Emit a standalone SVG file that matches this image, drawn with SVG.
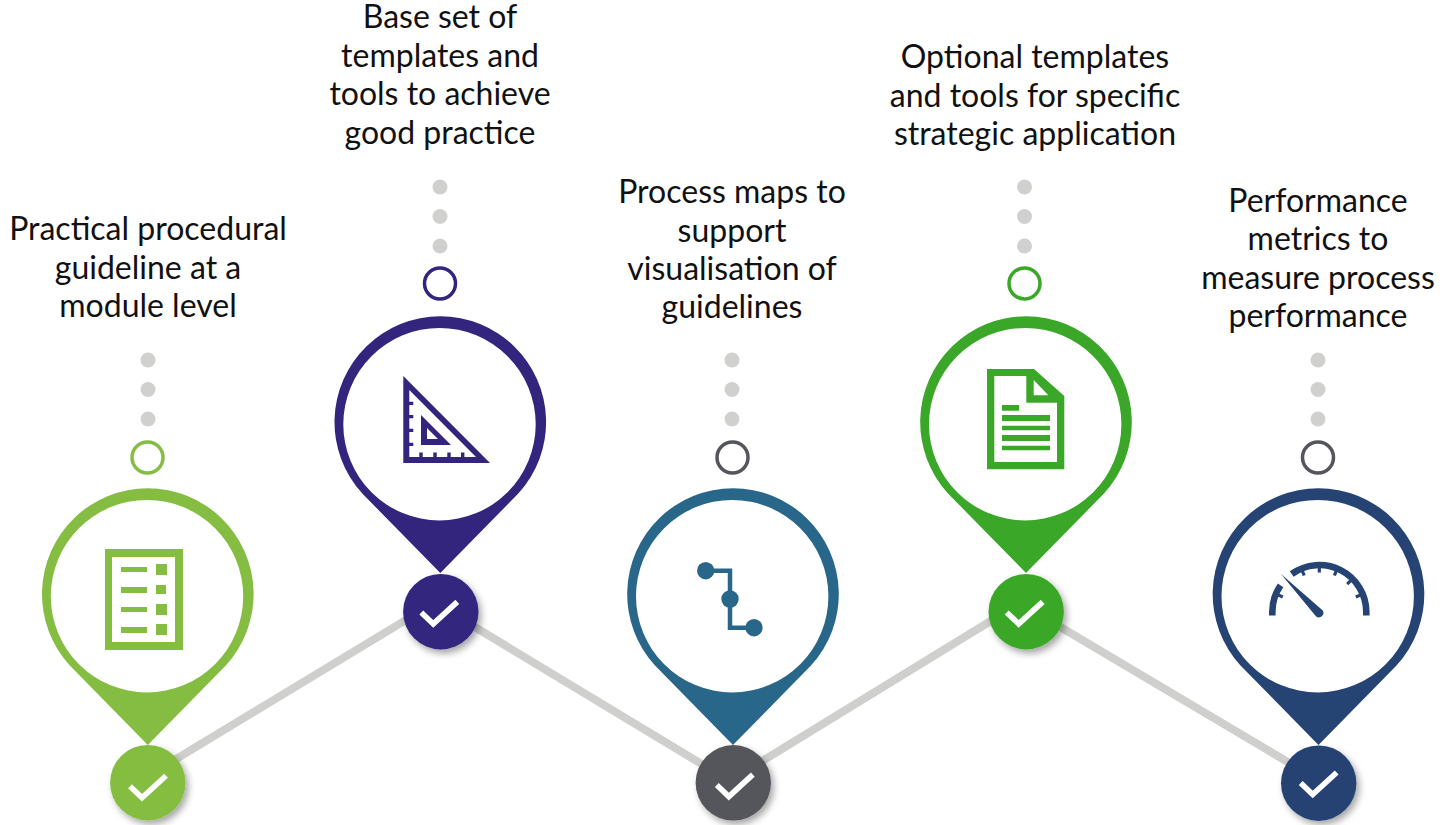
<svg xmlns="http://www.w3.org/2000/svg" width="1443" height="825" viewBox="0 0 1443 825">
<style>
text{font-family:"Lato","Carlito","Liberation Sans",sans-serif;font-size:32px;fill:#111;text-anchor:middle}
.dot{fill:#d0d0ce}
.ring{fill:#fff;stroke-width:3.5}
.chk{fill:none;stroke:#fff;stroke-width:5.600}
.ln{stroke:#cfcfcd;stroke-width:8;fill:none}
</style>
<defs>
<filter id="sh" x="-30%" y="-30%" width="170%" height="170%"><feDropShadow dx="3" dy="4" stdDeviation="3.5" flood-color="#000" flood-opacity="0.35"/></filter>
<path id="pinshape" fill-rule="evenodd" d="M-78 70.500A105.800 105.800 0 1 1 78 70.500L0 150ZM-97 1.200A96.200 96.200 0 1 0 95.400 1.200A96.200 96.200 0 1 0 -97 1.200Z"/>
<g id="dots"><circle class="dot" cx="0" cy="0" r="7.5"/><circle class="dot" cx="0" cy="29.5" r="7.5"/><circle class="dot" cx="0" cy="59" r="7.5"/></g>
<path id="check" class="chk" d="M-18 0L-6 11.500L18 -10.500"/>
</defs>
<g id="connectors">
<path class="ln" d="M148 776L440 599.300M440 606L733 783M733 779L1025 600M1025 606L1318 780"/>
</g>
<g id="node-1">
<text x="148" y="240">Practical procedural</text><text x="148" y="279">guideline at a</text><text x="148" y="317">module level</text>
<use href="#dots" x="148" y="360"/>
<circle class="ring" cx="147.500" cy="457.500" r="15.500" stroke="#84bd41"/>
<use href="#pinshape" x="147.800" y="595" fill="#84bd41"/>
<path fill="#84bd41" fill-rule="evenodd" d="M105 549H183V650H105ZM112 557V642H175V557Z"/>
<path fill="#84bd41" d="M121 567H147V572H121ZM121 587H147V593H121ZM121 607H147V612H121ZM121 627H147V633H121ZM156 564H167V575H156ZM156 585H166V594H156ZM156 604H167V615H156ZM156 624H167V635H156Z"/>
<g filter="url(#sh)"><circle cx="147.800" cy="782.700" r="37.700" fill="#84bd41"/></g>
<use href="#check" x="148" y="786.200"/>
</g>
<g id="node-2">
<text x="440" y="28">Base set of</text><text x="440" y="67">templates and</text><text x="440" y="105">tools to achieve</text><text x="440" y="144">good practice</text>
<use href="#dots" x="440" y="187"/>
<circle class="ring" cx="440" cy="283.500" r="15.500" stroke="#33257e"/>
<use href="#pinshape" x="440.300" y="423" fill="#33257e"/>
<path fill="#33257e" fill-rule="evenodd" d="M403.300 376L490 463H403.300ZM409.300 390V401.700H413.300V405H409.300V415H413.300V418.300H409.300V428.700H413.300V432H409.300V442.700H413.300V446H409.300V457H419.300V452.500H422.700V457H433.300V452.500H436.700V457H447.300V452.500H450.700V457H461V452.500H464.400V457H476ZM421 415L451 445H421ZM427 428V439H438Z"/>
<g filter="url(#sh)"><circle cx="440.800" cy="611.700" r="37.700" fill="#33257e"/></g>
<use href="#check" x="439.300" y="612.400"/>
</g>
<g id="node-3">
<text x="732" y="203">Process maps to</text><text x="732" y="242">support</text><text x="732" y="280">visualisation of</text><text x="732" y="318">guidelines</text>
<use href="#dots" x="732" y="360"/>
<circle class="ring" cx="732.500" cy="457.500" r="15.500" stroke="#54565b"/>
<use href="#pinshape" x="733" y="595" fill="#29678a"/>
<path fill="none" stroke="#29678a" stroke-width="4.500" d="M706 570.700H730V627.700H754"/>
<g fill="#29678a"><circle cx="705.700" cy="570.700" r="8.700"/><circle cx="730" cy="599" r="8.700"/><circle cx="754" cy="627.700" r="8.700"/></g>
<g filter="url(#sh)"><circle cx="733.300" cy="782.800" r="37.700" fill="#54565b"/></g>
<use href="#check" x="734.800" y="785.100"/>
</g>
<g id="node-4">
<text x="1035" y="68">Optional templates</text><text x="1035" y="107">and tools for specific</text><text x="1035" y="145">strategic application</text>
<use href="#dots" x="1024.500" y="187"/>
<circle class="ring" cx="1024.500" cy="283.500" r="15.500" stroke="#3aa728"/>
<use href="#pinshape" x="1026" y="423" fill="#3aa728"/>
<path fill="#3aa728" fill-rule="evenodd" d="M987 369H1034L1064.300 396V469.300H987ZM994.300 376V462H1057V402.700H1026.300V376ZM1033.700 380V395.300H1048.300Z"/>
<path fill="#3aa728" d="M1002 405H1019V410.700H1002ZM1002 415H1050V421H1002ZM1002 425.700H1050V430.300H1002ZM1002 435H1050V441H1002ZM1002 445.700H1050V450.300H1002Z"/>
<g filter="url(#sh)"><circle cx="1026.200" cy="611.700" r="37.700" fill="#3aa728"/></g>
<use href="#check" x="1024.700" y="612.400"/>
</g>
<g id="node-5">
<text x="1318" y="212">Performance</text><text x="1318" y="250">metrics to</text><text x="1318" y="289">measure process</text><text x="1318" y="327">performance</text>
<use href="#dots" x="1318" y="360"/>
<circle class="ring" cx="1318" cy="457.500" r="15.500" stroke="#54565b"/>
<use href="#pinshape" x="1318.500" y="595" fill="#254373"/>
<path fill="none" stroke="#254373" stroke-width="6.600" d="M1272.300 615.500V612A47 47 0 0 1 1280.600 585.400M1291.700 574A47 47 0 0 1 1366.300 612V615.500"/>
<path fill="none" stroke="#254373" stroke-width="3.200" d="M1360.900 594.800L1355.800 596.900M1351.100 580.200L1347.200 584.100M1336.500 570.400L1334.400 575.500M1319.300 567V572.500M1302.100 570.400L1304.200 575.500M1277.700 594.800L1282.800 596.900"/>
<path fill="#254373" d="M1281 574L1322.500 610.200A4.500 4.500 0 0 1 1316.100 616.400Z"/>
<g filter="url(#sh)"><circle cx="1318.700" cy="783.200" r="37.700" fill="#254373"/></g>
<use href="#check" x="1318.700" y="783"/>
</g>
</svg>
